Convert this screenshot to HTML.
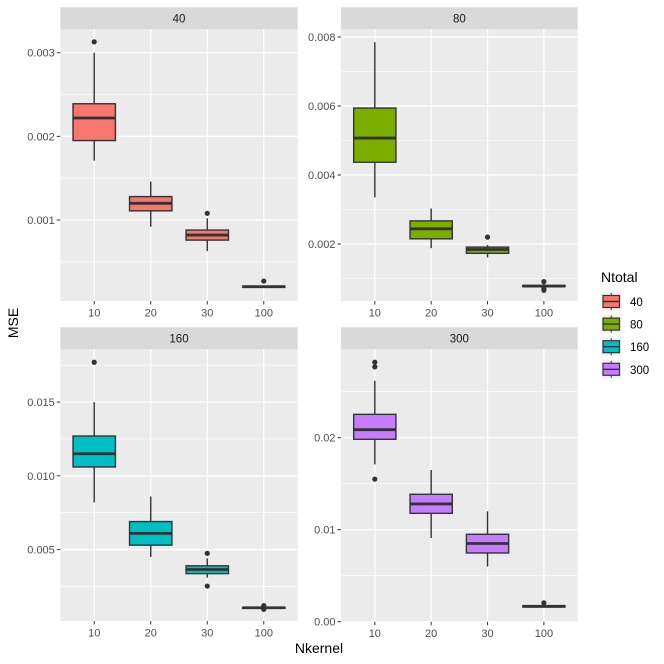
<!DOCTYPE html>
<html><head><meta charset="utf-8"><style>
html,body{margin:0;padding:0;background:#fff;}
svg{display:block;font-family:"Liberation Sans",Arial,sans-serif;}
</style></head><body>
<svg id="chart" width="664" height="664" viewBox="0 0 664 664" xmlns="http://www.w3.org/2000/svg">
<rect width="664" height="664" fill="#fff"/>
<text x="0" y="0" transform="translate(18,323) rotate(-90)" text-anchor="middle" font-size="14" fill="#000">MSE</text>
<text x="319" y="653" text-anchor="middle" font-size="14" fill="#000">Nkernel</text>
<g id="legend">
<text x="601" y="282" font-size="14" fill="#000">Ntotal</text>
</g>
</svg>
<script>
const categories = ["10","20","30","100"];
const panelNames = ["40","80","160","300"];
const colors = ["#F8766D","#7CAE00","#00BFC4","#C77CFF"];
// per-panel y tick values and labels
const ticks40 = [0.001,0.002,0.003];
const tickLabels40 = ["0.001","0.002","0.003"];
const ticks80 = [0.002,0.004,0.006,0.008];
const tickLabels80 = ["0.002","0.004","0.006","0.008"];
const ticks160 = [0.005,0.010,0.015];
const tickLabels160 = ["0.005","0.010","0.015"];
const ticks300 = [0,0.01,0.02];
const tickLabels300 = ["0.00","0.01","0.02"];
// y domains
const domain40 = [0.000032,0.00328];
const domain80 = [0.000348,0.008223];
const domain160 = [0.00016,0.018578];
const domain300 = [0,0.02961];
// box stats: [lowerWhisker, q1, median, q3, upperWhisker]
const stats40 = [[0.00171,0.00195,0.00222,0.00239,0.0030],[0.00092,0.00111,0.00120,0.00128,0.00146],[0.00063,0.00076,0.00082,0.00088,0.00102],[0.000195,0.000200,0.000203,0.000208,0.000215]];
const outliers40 = [[0.00313],[],[0.00108],[0.00027]];
const stats80 = [[0.00335,0.00437,0.00507,0.00594,0.00785],[0.00188,0.00215,0.00244,0.00267,0.00303],[0.00161,0.00173,0.00184,0.00191,0.00197],[0.00074,0.00077,0.00078,0.00080,0.00084]];
const outliers80 = [[],[],[0.0022],[0.00091,0.00070,0.00066]];
const stats160 = [[0.0082,0.0106,0.0115,0.0127,0.0150],[0.0045,0.0053,0.0061,0.0069,0.0086],[0.0031,0.00337,0.00365,0.0039,0.0044],[0.00098,0.00102,0.00106,0.00108,0.00112]];
const outliers160 = [[0.0177],[],[0.00475,0.00253],[0.0012,0.00095]];
const stats300 = [[0.0171,0.01983,0.02087,0.02254,0.0262],[0.0091,0.01178,0.0128,0.01385,0.0165],[0.0060,0.00747,0.0085,0.0095,0.0120],[0.00155,0.0016,0.00167,0.00172,0.0018]];
const outliers300 = [[0.0282,0.0277,0.0155],[],[],[0.00205]];

const NS="http://www.w3.org/2000/svg";
const svg=document.getElementById('chart');
function mk(tag,attrs,parent){const e=document.createElementNS(NS,tag);for(const k in attrs)e.setAttribute(k,attrs[k]);(parent||svg).appendChild(e);return e;}

const panels=[
 {name:panelNames[0],x0:60.3,x1:297.7,y0:29.3,y1:301,sy:7.3,ticks:ticks40,labels:tickLabels40,dom:domain40,stats:stats40,out:outliers40,col:colors[0]},
 {name:panelNames[1],x0:341,x1:577.7,y0:29.3,y1:301,sy:7.3,ticks:ticks80,labels:tickLabels80,dom:domain80,stats:stats80,out:outliers80,col:colors[1]},
 {name:panelNames[2],x0:60.3,x1:297.7,y0:349.3,y1:621,sy:327.3,ticks:ticks160,labels:tickLabels160,dom:domain160,stats:stats160,out:outliers160,col:colors[2]},
 {name:panelNames[3],x0:341,x1:577.7,y0:349.3,y1:621.7,sy:327.3,ticks:ticks300,labels:tickLabels300,dom:domain300,stats:stats300,out:outliers300,col:colors[3]}
];
const legendG=document.getElementById('legend');

panels.forEach((p,pi)=>{
  const g=mk('g',{});
  
  
  const w=p.x1-p.x0, h=p.y1-p.y0;
  const yS=v=>p.y1-(v-p.dom[0])/(p.dom[1]-p.dom[0])*h;
  const step=w/(categories.length+0.2);
  const xS=i=>p.x0+step*(i+0.6);
  const bg=mk('rect',{x:p.x0,y:p.y0,width:w,height:h,fill:'#EBEBEB'},g);
  
  
  const st=mk('rect',{x:p.x0,y:p.sy,width:w,height:p.y0-p.sy,fill:'#D9D9D9'},g);
  
  
  const stt=mk('text',{x:(p.x0+p.x1)/2,y:p.sy+15,'text-anchor':'middle','font-size':'11.5',fill:'#1A1A1A'},g);
  stt.textContent=p.name;
  
  
  const tstep=p.ticks[1]-p.ticks[0];
  for(let v=p.ticks[0]-tstep/2; v<p.dom[1]; v+=tstep){
    if(v<p.dom[0])continue;
    const gl=mk('line',{x1:p.x0,x2:p.x1,y1:yS(v),y2:yS(v),stroke:'#fff','stroke-width':0.6},g);
    
    
  }
  p.ticks.forEach((v,ti)=>{
    const y=yS(v);
    const gl=mk('line',{x1:p.x0,x2:p.x1,y1:y,y2:y,stroke:'#fff','stroke-width':1.2},g);
    
    
    const tk=mk('line',{x1:p.x0-3.5,x2:p.x0,y1:y,y2:y,stroke:'#333','stroke-width':1},g);
    
    
    const tl=mk('text',{x:p.x0-5.5,y:y+4,'text-anchor':'end','font-size':'11',fill:'#4D4D4D'},g);
    tl.textContent=p.labels[ti];
    
    
  });
  categories.forEach((c,i)=>{
    const x=xS(i);
    const gl=mk('line',{x1:x,x2:x,y1:p.y0,y2:p.y1,stroke:'#fff','stroke-width':1.2},g);
    
    
    const tk=mk('line',{x1:x,x2:x,y1:p.y1,y2:p.y1+3.5,stroke:'#333','stroke-width':1},g);
    
    
    const tl=mk('text',{x:x,y:p.y1+15.5,'text-anchor':'middle','font-size':'11',fill:'#4D4D4D'},g);
    tl.textContent=c;
    
    
  });
  categories.forEach((c,i)=>{
    const s=p.stats[i], x=xS(i), bw=step*0.75;
    const bg2=mk('g',{},g);
    
    
    mk('line',{x1:x,x2:x,y1:yS(s[4]),y2:yS(s[3]),stroke:'#333','stroke-width':1.4},bg2);
    mk('line',{x1:x,x2:x,y1:yS(s[1]),y2:yS(s[0]),stroke:'#333','stroke-width':1.4},bg2);
    const yt=yS(s[3]), yb=yS(s[1]);
    mk('rect',{x:x-bw/2,y:yt,width:bw,height:Math.max(yb-yt,0.5),fill:p.col,stroke:'#333','stroke-width':1.4},bg2);
    mk('line',{x1:x-bw/2,x2:x+bw/2,y1:yS(s[2]),y2:yS(s[2]),stroke:'#333','stroke-width':2.8},bg2);
    p.out[i].forEach(v=>{
      const pt=mk('circle',{cx:x,cy:yS(v),r:2.6,fill:'#333'},g);
      
      
    });
  });
  const ly=292+pi*22.6;
  const le=mk('g',{},legendG);
  
  
  mk('rect',{x:601,y:ly,width:20.5,height:19,fill:'#F2F2F2'},le);
  mk('line',{x1:611.2,x2:611.2,y1:ly+1,y2:ly+18,stroke:'#333','stroke-width':1},le);
  mk('rect',{x:603,y:ly+3.5,width:16.5,height:12,fill:p.col,stroke:'#333','stroke-width':1.2},le);
  mk('line',{x1:603,x2:619.5,y1:ly+9.5,y2:ly+9.5,stroke:'#333','stroke-width':1.4},le);
  const lt=mk('text',{x:630,y:ly+14,'font-size':'11.5',fill:'#000'},le);
  lt.textContent=p.name;
});
</script>
</body></html>
